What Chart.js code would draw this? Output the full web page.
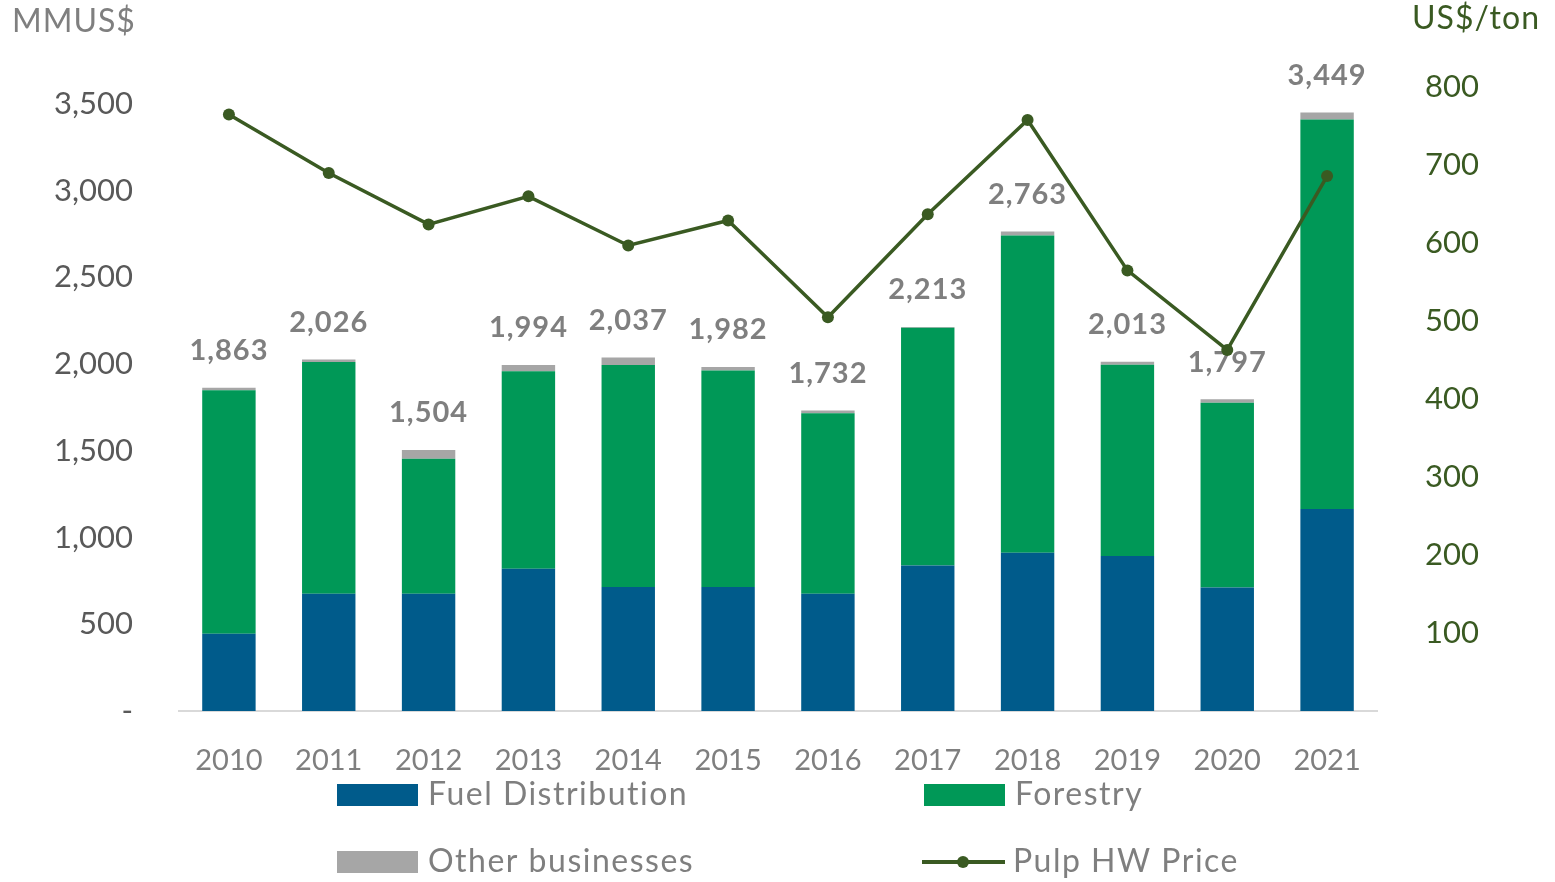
<!DOCTYPE html>
<html><head><meta charset="utf-8">
<script src="https://cdn.jsdelivr.net/npm/chart.js@4/dist/chart.umd.min.js"></script>
<style>html,body{margin:0;padding:0;background:#fff;overflow:hidden}#wrap{width:1555px;height:882px;position:relative}canvas{display:block}</style>
</head><body><div id="wrap"><canvas id="c" width="1555" height="882"></canvas></div>
<script>
const years = ['2010','2011','2012','2013','2014','2015','2016','2017','2018','2019','2020','2021'];
const fuelDistribution = [445, 676, 676, 820, 714, 714, 676, 839, 912, 893, 712, 1164];
const forestry = [1404, 1336, 778, 1138, 1280, 1248, 1040, 1370, 1829, 1102, 1065, 2245];
const otherBusinesses = [14, 14, 50, 36, 43, 20, 16, 4, 22, 18, 20, 40];
const totals = [1863, 2026, 1504, 1994, 2037, 1982, 1732, 2213, 2763, 2013, 1797, 3449];
const pulpHwPrice = [765, 690, 624, 660, 597, 629, 505, 637, 758, 565, 463, 686];
const leftTicks = [0, 500, 1000, 1500, 2000, 2500, 3000, 3500];
const rightTicks = [100, 200, 300, 400, 500, 600, 700, 800];

const FONT = 'Lato, "Open Sans", "Noto Sans", sans-serif';
const GRAY = '#7f7f7f';
const DKGREEN = '#3a5a22';

const canvas = document.getElementById('c');
const baseCtx = canvas.getContext('2d');
baseCtx.letterSpacing = '1px';

const extrasPlugin = {
  id: 'extras',
  beforeDatasetsDraw(chart) {
    const ctx = chart.ctx;
    const meta = chart.getDatasetMeta(2);
    ctx.save();
    ctx.letterSpacing = '1px';
    ctx.font = 'bold 29px ' + FONT;
    ctx.fillStyle = GRAY;
    ctx.textAlign = 'center';
    ctx.textBaseline = 'middle';
    const y = chart.scales.y;
    totals.forEach((t, i) => {
      const el = meta.data[i];
      const top = y.getPixelForValue(t);
      ctx.fillText(t.toLocaleString('en-US'), el.x, top - 37);
    });
    ctx.restore();
  },
  afterDraw(chart) {
    const ctx = chart.ctx;
    ctx.save();
    ctx.letterSpacing = '1px';
    ctx.font = '32px ' + FONT;
    ctx.textBaseline = 'middle';
    ctx.fillStyle = GRAY;
    ctx.textAlign = 'left';
    ctx.fillText('MMUS$', 12, 22);
    ctx.fillStyle = DKGREEN;
    ctx.textAlign = 'right';
    ctx.fillText('US$/ton', 1540, 19);
    const ds = chart.data.datasets;
    const slots = [
      {i: 0, x: 337, y: 795},
      {i: 1, x: 924, y: 795},
      {i: 2, x: 337, y: 862},
      {i: 3, x: 922, y: 862}
    ];
    ctx.letterSpacing = '1.5px';
    ctx.font = '32px ' + FONT;
    ctx.textAlign = 'left';
    slots.forEach(s => {
      const d = ds[s.i];
      if (d.type === 'line') {
        ctx.strokeStyle = d.borderColor;
        ctx.lineWidth = 4;
        ctx.beginPath(); ctx.moveTo(s.x, s.y); ctx.lineTo(s.x + 83, s.y); ctx.stroke();
        ctx.fillStyle = d.borderColor;
        ctx.beginPath(); ctx.arc(s.x + 41, s.y, 6, 0, Math.PI * 2); ctx.fill();
      } else {
        ctx.fillStyle = d.backgroundColor;
        ctx.fillRect(s.x, s.y - 11, 81, 22);
      }
      ctx.fillStyle = GRAY;
      ctx.fillText(d.label, s.x + 91, s.y);
    });
    ctx.restore();
  }
};

function noPad(s) { s.paddingTop = 0; s.paddingBottom = 0; }

new Chart(canvas, {
  data: {
    labels: years,
    datasets: [
      {type: 'bar', label: 'Fuel Distribution', data: fuelDistribution, backgroundColor: '#005b8b', yAxisID: 'y', stack: 's', order: 1},
      {type: 'bar', label: 'Forestry', data: forestry, backgroundColor: '#009857', yAxisID: 'y', stack: 's', order: 1},
      {type: 'bar', label: 'Other businesses', data: otherBusinesses, backgroundColor: '#a6a6a6', yAxisID: 'y', stack: 's', order: 1},
      {type: 'line', label: 'Pulp HW Price', data: pulpHwPrice, borderColor: DKGREEN, backgroundColor: DKGREEN,
       borderWidth: 3.5, pointRadius: 6, pointHoverRadius: 6, pointBackgroundColor: DKGREEN, pointBorderWidth: 0,
       tension: 0, yAxisID: 'y1', order: 0}
    ]
  },
  options: {
    responsive: false,
    devicePixelRatio: 1,
    animation: false,
    layout: {padding: {top: 17, left: 0, right: 0, bottom: 0}},
    plugins: {legend: {display: false}, tooltip: {enabled: false}},
    datasets: {bar: {categoryPercentage: 1, barPercentage: 0.535}},
    scales: {
      x: {
        stacked: true,
        offset: true,
        grid: {display: false, drawTicks: false},
        border: {display: true, color: '#d9d9d9', width: 2},
        ticks: {color: GRAY, font: {family: FONT, size: 29}, padding: 32, maxRotation: 0},
        afterFit(s) { s.height = 171; s.paddingLeft = 0; s.paddingRight = 0; }
      },
      y: {
        stacked: true,
        position: 'left',
        min: 0, max: 4000,
        grid: {display: false, drawTicks: false},
        border: {display: false},
        afterBuildTicks(s) { s.ticks = leftTicks.map(v => ({value: v})); },
        ticks: {color: '#595959', font: {family: FONT, size: 31}, padding: 46,
          callback: v => v === 0 ? '-' : Number(v).toLocaleString('en-US')},
        afterFit(s) { s.width = 179; noPad(s); }
      },
      y1: {
        position: 'right',
        min: 0, max: 890,
        grid: {display: false, drawTicks: false},
        border: {display: false},
        afterBuildTicks(s) { s.ticks = rightTicks.map(v => ({value: v})); },
        ticks: {color: DKGREEN, font: {family: FONT, size: 31}, padding: 48,
          callback: v => String(v)},
        afterFit(s) { s.width = 178; noPad(s); }
      }
    }
  },
  plugins: [extrasPlugin]
});
</script>
</body></html>
